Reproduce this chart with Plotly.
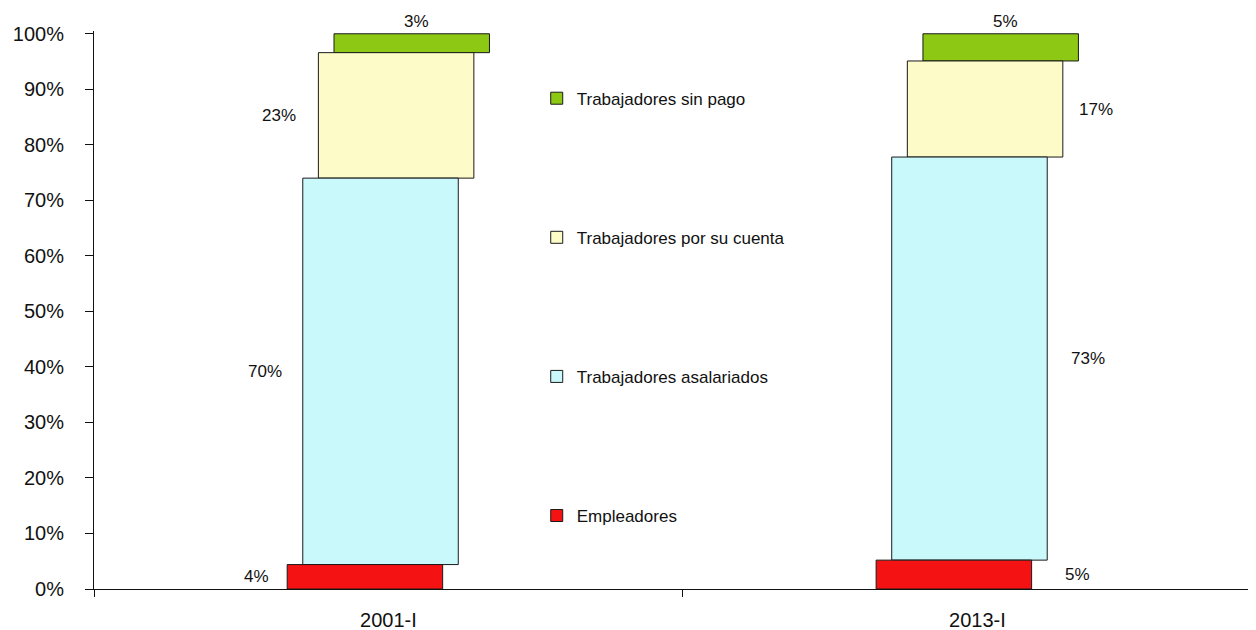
import numpy as np
import plotly.graph_objects as go

# composición del empleo por posición en la ocupación (%)
periodos = ["2001-I", "2013-I"]
empleadores = [4.4, 5.2]
asalariados = [69.6, 72.6]
por_su_cuenta = [22.6, 17.3]
sin_pago = [3.4, 4.9]

nombres = ["Empleadores", "Trabajadores asalariados",
           "Trabajadores por su cuenta", "Trabajadores sin pago"]
series = [empleadores, asalariados, por_su_cuenta, sin_pago]

colores = ["#f41212", "#c9f9fb", "#fdfbc8", "#8cc814"]
offsets = [-0.172, -0.1455, -0.119, -0.0925]   # efecto escalonado
ancho = 0.264
# separación (px) de la etiqueta respecto al borde de la barra
gap_izq = [16, 19, 20]
gap_der = [31, 22, 14]

FONT = "Liberation Sans, Arial, sans-serif"

vals = np.array(series)
bases = np.vstack([np.zeros(len(periodos)), np.cumsum(vals, axis=0)[:-1]])

fig = go.Figure()
# se añaden de arriba hacia abajo para que la leyenda quede en ese orden
for k in reversed(range(len(nombres))):
    fig.add_trace(go.Bar(
        x=periodos, y=series[k], base=bases[k],
        offset=offsets[k], width=ancho,
        marker=dict(color=colores[k], line=dict(color="#1a1a1a", width=1)),
        name=nombres[k], legendgroup=nombres[k],
    ))

anot = []
for i, p in enumerate(periodos):
    for k in range(len(nombres)):
        v = vals[k, i]
        txt = f"{round(v)}%"
        mid = bases[k, i] + v / 2
        if k == len(nombres) - 1:
            anot.append(dict(x=i + offsets[k] + ancho / 2, y=bases[k, i] + v,
                             text=txt, showarrow=False, xanchor="center",
                             yanchor="middle", yshift=12, xshift=5))
        elif i == 0:
            anot.append(dict(x=i + offsets[k], y=mid, text=txt, showarrow=False,
                             xanchor="right", xshift=-gap_izq[k]))
        else:
            anot.append(dict(x=i + offsets[k] + ancho, y=mid, text=txt,
                             showarrow=False, xanchor="left", xshift=gap_der[k]))
for a in anot:
    a["font"] = dict(family=FONT, size=17, color="#111")

# la página añade 8px de margen al body
fig.update_layout(
    width=1248, height=622,
    margin=dict(l=86, r=0, t=23, b=41, autoexpand=False),
    barmode="overlay",
    plot_bgcolor="white", paper_bgcolor="white",
    font=dict(family=FONT, color="#111"),
    annotations=anot,
    legend=dict(
        x=0.381, y=0.911, xanchor="left", yanchor="top",
        traceorder="grouped", tracegroupgap=114,
        font=dict(family=FONT, size=17, color="#111"),
        bgcolor="rgba(0,0,0,0)",
    ),
    xaxis=dict(
        type="category", range=[-0.5, 1.473],
        showline=True, linecolor="#111", linewidth=1,
        ticks="outside", tickson="boundaries", ticklen=7, tickcolor="#111",
        showgrid=False, ticklabelstandoff=13,
        tickfont=dict(family=FONT, size=20, color="#111"),
    ),
    yaxis=dict(
        range=[0, 100.5], dtick=10, ticksuffix="%",
        showline=True, linecolor="#111", linewidth=1,
        ticks="outside", ticklen=8, tickcolor="#111",
        showgrid=False, zeroline=False, ticklabelstandoff=17,
        tickfont=dict(family=FONT, size=20, color="#111"),
    ),
)

fig.write_html("out.html")
